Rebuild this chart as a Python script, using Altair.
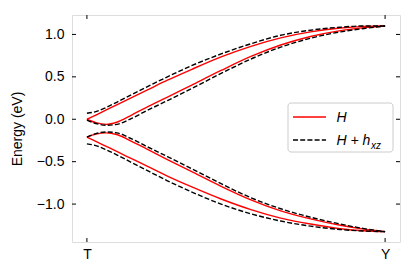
import altair as alt
import pandas as pd

# k-path positions (T -> Y)
t = [0, 0.03, 0.065, 0.1, 0.15, 0.2, 0.27, 0.35, 0.45, 0.55, 0.65, 0.75, 0.85, 0.93, 1.0]

# H (red, solid)
h_up_1 = [0.0, 0.05, 0.11, 0.17, 0.255, 0.34, 0.46, 0.586, 0.735, 0.86, 0.96, 1.03, 1.075, 1.095, 1.10]
h_up_2 = [0.0, -0.04, -0.06, -0.035, 0.05, 0.14, 0.26, 0.40, 0.575, 0.74, 0.875, 0.975, 1.045, 1.08, 1.10]
h_lo_1 = [-0.21, -0.175, -0.16, -0.18, -0.26, -0.35, -0.475, -0.615, -0.79, -0.95, -1.08, -1.175, -1.25, -1.295, -1.325]
h_lo_2 = [-0.21, -0.26, -0.32, -0.38, -0.465, -0.55, -0.67, -0.795, -0.94, -1.065, -1.165, -1.235, -1.29, -1.315, -1.325]

# H + h_xz (black, dashed)
hh_up_1 = [0.07, 0.09, 0.14, 0.20, 0.29, 0.38, 0.50, 0.63, 0.77, 0.89, 0.99, 1.05, 1.085, 1.10, 1.10]
hh_up_2 = [-0.01, -0.05, -0.07, -0.06, 0.01, 0.10, 0.22, 0.36, 0.54, 0.71, 0.85, 0.955, 1.03, 1.07, 1.10]
hh_lo_1 = [-0.21, -0.17, -0.15, -0.16, -0.23, -0.32, -0.44, -0.58, -0.76, -0.925, -1.055, -1.155, -1.235, -1.29, -1.325]
hh_lo_2 = [-0.29, -0.31, -0.36, -0.42, -0.51, -0.60, -0.725, -0.855, -1.0, -1.115, -1.2, -1.26, -1.30, -1.318, -1.325]

x_ticks = [0, 1]
x_tick_labels = ["T", "Y"]
y_ticks = [-1.0, -0.5, 0.0, 0.5, 1.0]

W, H = 328, 227
FONT = "Liberation Sans"

def frame(series):
    rows = []
    for name, vals in series.items():
        for tt, e in zip(t, vals):
            rows.append({"t": tt, "E": e, "band": name})
    return pd.DataFrame(rows)

red_df = frame({"a": h_up_1, "b": h_up_2, "c": h_lo_1, "d": h_lo_2})
blk_df = frame({"a": hh_up_1, "b": hh_up_2, "c": hh_lo_1, "d": hh_lo_2})

xscale = alt.Scale(domain=[-0.05, 1.05], nice=False, zero=False)
yscale = alt.Scale(domain=[-1.447, 1.229], nice=False, zero=False)

label_expr = "datum.value == 0 ? 'T' : 'Y'"

xenc = alt.X("t:Q", scale=xscale,
             axis=alt.Axis(values=x_ticks, labelExpr=label_expr, title=None, grid=False,
                           domain=False, ticks=False, labelPadding=5, labelFontSize=14,
                           labelFont=FONT, labelColor="black"))
yenc = alt.Y("E:Q", scale=yscale,
             axis=alt.Axis(values=y_ticks, format=".1f", title="Energy (eV)", grid=False,
                           domain=False, ticks=False, labelPadding=8, labelFontSize=14,
                           labelFont=FONT, labelColor="black", titleFont=FONT,
                           titleFontSize=14, titleFontWeight="normal", titleColor="black",
                           titlePadding=12))

red = alt.Chart(red_df).mark_line(color="#ff0000", strokeWidth=1.4, interpolate="monotone").encode(
    x=xenc, y=yenc, detail="band:N")
blk = alt.Chart(blk_df).mark_line(color="black", strokeWidth=1.4, strokeDash=[5, 2.2],
                                  interpolate="monotone").encode(
    x=alt.X("t:Q", scale=xscale), y=alt.Y("E:Q", scale=yscale), detail="band:N")

xt_df = pd.DataFrame({"t": x_ticks, "lab": x_tick_labels})
yt_df = pd.DataFrame({"E": y_ticks})
TL = 4
tick_top = alt.Chart(xt_df).mark_rule(color="black", strokeWidth=1).encode(
    x=alt.X("t:Q", scale=xscale), y=alt.value(0), y2=alt.value(TL))
tick_bot = alt.Chart(xt_df).mark_rule(color="black", strokeWidth=1).encode(
    x=alt.X("t:Q", scale=xscale), y=alt.value(H - TL), y2=alt.value(H))
tick_left = alt.Chart(yt_df).mark_rule(color="black", strokeWidth=1).encode(
    y=alt.Y("E:Q", scale=yscale), x=alt.value(0), x2=alt.value(TL))
tick_right = alt.Chart(yt_df).mark_rule(color="black", strokeWidth=1).encode(
    y=alt.Y("E:Q", scale=yscale), x=alt.value(W - TL), x2=alt.value(W))

one = pd.DataFrame({"a": [0]})
leg_box = alt.Chart(one).mark_rect(fill="white", fillOpacity=0.8, stroke="#cccccc",
                                   strokeWidth=1, cornerRadius=3).encode(
    x=alt.value(216), x2=alt.value(321), y=alt.value(88), y2=alt.value(137))
leg_red = alt.Chart(one).mark_rule(color="#ff0000", strokeWidth=1.4).encode(
    x=alt.value(221), x2=alt.value(254), y=alt.value(102))
leg_blk = alt.Chart(one).mark_rule(color="black", strokeWidth=1.4, strokeDash=[5, 2.2]).encode(
    x=alt.value(221), x2=alt.value(254), y=alt.value(125))
leg_t1 = alt.Chart(one).mark_text(text="H", font=FONT, fontSize=14, fontStyle="italic",
                                  align="left", baseline="alphabetic", color="black").encode(
    x=alt.value(264.5), y=alt.value(107))
leg_t2 = alt.Chart(one).mark_text(text="H + h", font=FONT, fontSize=14, fontStyle="italic",
                                  align="left", baseline="alphabetic", color="black").encode(
    x=alt.value(264.5), y=alt.value(130.3))
leg_t3 = alt.Chart(one).mark_text(text="xz", font=FONT, fontSize=10, fontStyle="italic",
                                  align="left", baseline="alphabetic", color="black").encode(
    x=alt.value(299), y=alt.value(133.5))

chart = alt.layer(red, blk, tick_top, tick_bot, tick_left, tick_right,
                  leg_box, leg_red, leg_blk, leg_t1, leg_t2, leg_t3).properties(
    width=W, height=H,
    autosize=alt.AutoSizeParams(type="none"),
    padding={"left": 64, "top": 7, "right": 7, "bottom": 27},
).configure_view(stroke="black", strokeWidth=1.1).configure(background="white")

chart.save("out.html", embed_options={"renderer": "svg", "actions": False})
